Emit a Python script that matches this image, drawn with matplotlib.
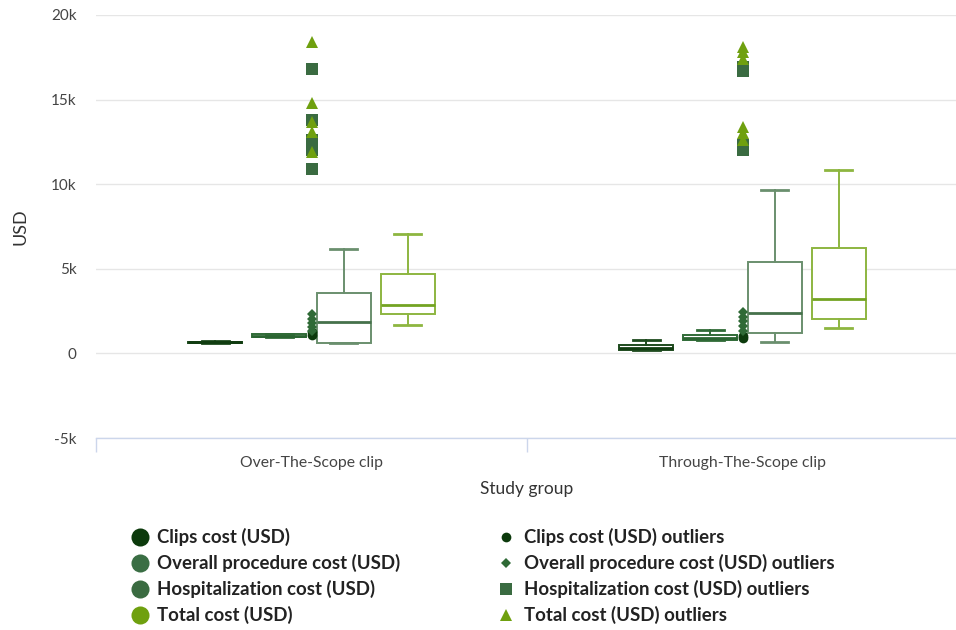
import matplotlib
matplotlib.use("Agg")
import matplotlib.pyplot as plt
from matplotlib.lines import Line2D
import numpy as np

plt.rcParams['font.family'] = ['Lato', 'DejaVu Sans']

categories = ["Over-The-Scope clip", "Through-The-Scope clip"]
series_names = ["Clips cost (USD)", "Overall procedure cost (USD)",
                "Hospitalization cost (USD)", "Total cost (USD)"]

# five-number summaries per category: [OTS, TTS]
clips_low = [600, 190]
clips_q1 = [610, 200]
clips_med = [650, 330]
clips_q3 = [700, 490]
clips_high = [760, 790]

overall_low = [960, 780]
overall_q1 = [965, 790]
overall_med = [1000, 900]
overall_q3 = [1120, 1065]
overall_high = [1170, 1360]

hosp_low = [600, 690]
hosp_q1 = [630, 1220]
hosp_med = [1850, 2410]
hosp_q3 = [3590, 5400]
hosp_high = [6150, 9640]

total_low = [1680, 1480]
total_q1 = [2310, 2050]
total_med = [2860, 3240]
total_q3 = [4670, 6250]
total_high = [7080, 10850]

# outliers per category
clips_out = [[1100, 1250], [900, 1050]]
overall_out = [[1300, 1550, 1800, 2050, 2300], [1300, 1600, 1900, 2150, 2450]]
hosp_out = [[10900, 12000, 12300, 12600, 13800, 16800], [12000, 12300, 16700, 16900]]
total_out = [[11900, 13100, 13650, 14800, 18400], [12600, 13000, 13400, 17400, 17800, 18100]]

box_line_colors = ["#1d4a1d", "#2f6a36", "#6a8f6e", "#8db640"]
median_colors = ["#103c10", "#2a6431", "#45714b", "#73a322"]
legend_colors = ["#0c3a0c", "#3a6e44", "#3a6b41", "#6fa00f"]
outlier_colors = ["#0c3a0c", "#2f6a36", "#3a6b41", "#6fa00f"]
outlier_markers = ["o", "D", "s", "^"]
outlier_sizes = [7, 5.5, 8, 8]

fig = plt.figure(figsize=(9.56, 6.3), dpi=100)
ax = fig.add_axes([96/956, 1-438/630, (958-96)/956, (438-15)/630])

lows = [clips_low, overall_low, hosp_low, total_low]
q1s = [clips_q1, overall_q1, hosp_q1, total_q1]
meds = [clips_med, overall_med, hosp_med, total_med]
q3s = [clips_q3, overall_q3, hosp_q3, total_q3]
highs = [clips_high, overall_high, hosp_high, total_high]
outs = [clips_out, overall_out, hosp_out, total_out]

spacing = 0.149
width = 0.125
offsets = [(-1.5 + i) * spacing for i in range(4)]
xc = np.arange(len(categories))

for s in range(4):
    stats = []
    for c in range(len(categories)):
        stats.append(dict(whislo=lows[s][c], q1=q1s[s][c], med=meds[s][c],
                          q3=q3s[s][c], whishi=highs[s][c], fliers=[]))
    col = box_line_colors[s]
    ax.bxp(stats, positions=xc + offsets[s], widths=width, showfliers=False,
           patch_artist=True, manage_ticks=False,
           boxprops=dict(facecolor="white", edgecolor=col, linewidth=1.4),
           whiskerprops=dict(color=col, linewidth=1.4),
           capprops=dict(color=col, linewidth=2),
           medianprops=dict(color=median_colors[s], linewidth=2),
           capwidths=width * 0.5)

for s in range(4):
    for c in range(len(categories)):
        vals = outs[s][c]
        ax.plot([xc[c]] * len(vals), vals, linestyle="none",
                marker=outlier_markers[s], markersize=outlier_sizes[s],
                color=outlier_colors[s], markeredgewidth=0, zorder=5 + s)

ax.set_xlim(-0.5, 1.5)
ax.set_ylim(-5000, 20000)
yt = [-5000, 0, 5000, 10000, 15000, 20000]
ax.set_yticks(yt)
ax.set_yticklabels(["-5k", "0", "5k", "10k", "15k", "20k"])
ax.yaxis.grid(True, color="#e6e6e6", linewidth=1)
ax.set_axisbelow(True)
ax.tick_params(axis="y", length=0, pad=14, labelsize=11, labelcolor="#444444")
for sp in ["top", "right", "left"]:
    ax.spines[sp].set_visible(False)
ax.spines["bottom"].set_color("#ccd6eb")
ax.spines["bottom"].set_linewidth(1)

ax.set_xticks([-0.5, 0.5, 1.5])
ax.set_xticklabels([])
ax.set_xticks(xc, minor=True)
ax.set_xticklabels(categories, minor=True)
ax.tick_params(axis="x", which="major", length=10, color="#ccd6eb", width=1)
ax.tick_params(axis="x", which="minor", length=0, pad=13, labelsize=11.3, labelcolor="#444444")

ax.set_ylabel("USD", fontsize=13, color="#333333", labelpad=16)
ax.set_xlabel("Study group", fontsize=12.5, color="#333333", labelpad=8)

# legend drawn manually in two columns
col_x = [140, 506]
row_y = [537, 563, 589, 615]
for i, name in enumerate(series_names):
    y = 1 - row_y[i] / 630
    fig.add_artist(Line2D([col_x[0] / 956], [y], marker="o", markersize=13,
                          color=legend_colors[i], transform=fig.transFigure,
                          linestyle="none", markeredgewidth=0))
    fig.text(157 / 956, y, name, fontsize=13.4, fontweight="bold",
             color="#222222", va="center", ha="left")
    fig.add_artist(Line2D([col_x[1] / 956], [y], marker=outlier_markers[i],
                          markersize=outlier_sizes[i], color=outlier_colors[i],
                          transform=fig.transFigure, linestyle="none",
                          markeredgewidth=0))
    fig.text(524 / 956, y, name + " outliers", fontsize=13.4, fontweight="bold",
             color="#222222", va="center", ha="left")

fig.savefig("out.png", dpi=100)
